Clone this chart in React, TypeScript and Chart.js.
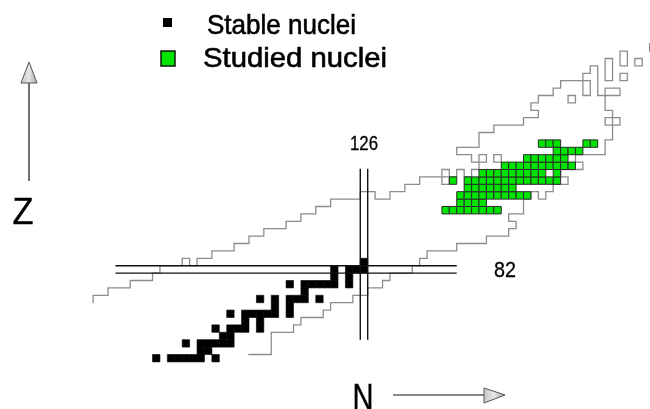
import { useEffect, useRef } from "react";
import { Chart, registerables } from "chart.js";

Chart.register(...registerables);

// ---------------- data ----------------
// Known nuclei: for each proton number Z, the known neutron-number ranges [from, to]
const knownZ = [70, 71, 72, 73, 74, 75, 76, 77, 78, 79, 80, 81, 82, 83, 84, 85, 86, 87, 88, 89, 90, 91, 92, 93, 94, 95, 96, 97, 98, 99, 100, 101, 102, 103, 104, 105, 106, 107, 108, 109, 110, 111, 112];
const knownN: number[][][] = [
  [[60, 110]],
  [[60, 113]],
  [[60, 113]],
  [[60, 113]],
  [[60, 116]],
  [[60, 117]],
  [[60, 120]],
  [[60, 121]],
  [[90, 124]],
  [[92, 126]],
  [[95, 128]],
  [[98, 129]],
  [[99, 132]],
  [[102, 102], [104, 133]],
  [[106, 134]],
  [[109, 138]],
  [[111, 142]],
  [[113, 145]],
  [[116, 146]],
  [[118, 145]],
  [[120, 147]],
  [[122, 147]],
  [[126, 127], [130, 148], [150, 150]],
  [[132, 151]],
  [[134, 136], [138, 153]],
  [[137, 137], [139, 139], [141, 152]],
  [[142, 155]],
  [[141, 141], [143, 143], [145, 154]],
  [[139, 158]],
  [[142, 158]],
  [[142, 159]],
  [[144, 159]],
  [[148, 158], [160, 160]],
  [[150, 159]],
  [[149, 158]],
  [[150, 153], [155, 158]],
  [[152, 155], [157, 157], [159, 160]],
  [[153, 155], [157, 157]],
  [[156, 157], [159, 159], [161, 161]],
  [[157, 157], [159, 159]],
  [[159, 159], [161, 161], [163, 163]],
  [[161, 161]],
  [[165, 165]],
];

// Stable nuclei (black)
const stableZ = [70, 71, 72, 73, 74, 75, 76, 77, 78, 79, 80, 81, 82, 83];
const stableN: number[][] = [
  [98, 100, 101, 102, 103, 104, 106],
  [104, 105],
  [102, 104, 105, 106, 107, 108],
  [107, 108],
  [106, 108, 109, 110, 112],
  [110, 112],
  [108, 110, 111, 112, 113, 114, 116],
  [114, 116],
  [112, 114, 116, 117, 118, 120],
  [118],
  [116, 118, 119, 120, 121, 122, 124],
  [122, 124],
  [122, 124, 125, 126],
  [126],
];

// Studied nuclei (green): ranges of N for each Z
const studiedZ = [90, 91, 92, 93, 94, 95, 96, 97, 98, 99];
const studiedN: number[][][] = [
  [[137, 144]],
  [[139, 142]],
  [[139, 148]],
  [[140, 146]],
  [[138, 138], [140, 152]],
  [[142, 150], [152, 152]],
  [[145, 154]],
  [[148, 153]],
  [[152, 155]],
  [[150, 152], [156, 157]],
];

// Magic numbers and the extent of their double lines
const magicN = 126;
const magicZ = 82;
const magicNLineZ = [72.5, 95.6];
const magicZLineN = [92.5, 138.5];
const magicLabels = ["126", "82"];
const magicZLabelN = 145;

// rows / columns from which the outline of known nuclei is drawn
const outlineFromZ = 71;
const outlineFromN = 90;

const legendLabels = ["Stable nuclei", "Studied nuclei"];
const axisLabels = ["N", "Z"];

// visible window of the chart in (N, Z)
const N_MIN = 76.945;
const N_MAX = 164.546;
const Z_MIN = 63.135;
const Z_MAX = 118.405;

// ---------------- helpers ----------------
type P = { x: number | null; y: number | null };

function cellsFromRanges(zs: number[], ranges: number[][][]): P[] {
  const out: P[] = [];
  zs.forEach((z, i) => ranges[i].forEach(([a, b]) => {
    for (let n = a; n <= b; n++) out.push({ x: n, y: z });
  }));
  return out;
}

function cellsFromLists(zs: number[], lists: number[][]): P[] {
  const out: P[] = [];
  zs.forEach((z, i) => lists[i].forEach((n) => out.push({ x: n, y: z })));
  return out;
}

function outlinePoints(): P[] {
  const set = new Set<string>();
  knownZ.forEach((z, i) => knownN[i].forEach(([a, b]) => {
    for (let n = a; n <= b; n++) set.add(z + ":" + n);
  }));
  const has = (z: number, n: number) => set.has(z + ":" + n);
  const zLo = Math.min(...knownZ) - 1;
  const zHi = Math.max(...knownZ) + 1;
  let nLo = Infinity;
  let nHi = -Infinity;
  knownN.forEach((r) => r.forEach(([a, b]) => { nLo = Math.min(nLo, a); nHi = Math.max(nHi, b); }));
  const pts: P[] = [];
  for (let z = zLo; z < zHi; z++) {
    let start: number | null = null;
    for (let n = nLo - 1; n <= nHi + 2; n++) {
      const a = has(z, n);
      const b = has(z + 1, n);
      const owner = a ? z : z + 1;
      const draw = a !== b && owner >= outlineFromZ && n >= outlineFromN;
      if (draw && start === null) start = n;
      if (!draw && start !== null) {
        pts.push({ x: start - 0.5, y: z + 0.5 }, { x: n - 0.5, y: z + 0.5 }, { x: null, y: null });
        start = null;
      }
    }
  }
  for (let n = nLo - 1; n <= nHi + 1; n++) {
    let start: number | null = null;
    for (let z = zLo; z <= zHi + 1; z++) {
      const a = has(z, n);
      const b = has(z, n + 1);
      const draw = a !== b && z >= outlineFromZ && n + 1 >= outlineFromN;
      if (draw && start === null) start = z;
      if (!draw && start !== null) {
        pts.push({ x: n + 0.5, y: start - 0.5 }, { x: n + 0.5, y: z - 0.5 }, { x: null, y: null });
        start = null;
      }
    }
  }
  return pts;
}

function magicPoints(): P[] {
  return [
    { x: magicZLineN[0], y: magicZ - 0.5 }, { x: magicZLineN[1], y: magicZ - 0.5 }, { x: null, y: null },
    { x: magicZLineN[0], y: magicZ + 0.5 }, { x: magicZLineN[1], y: magicZ + 0.5 }, { x: null, y: null },
    { x: magicN - 0.5, y: magicNLineZ[0] }, { x: magicN - 0.5, y: magicNLineZ[1] }, { x: null, y: null },
    { x: magicN + 0.5, y: magicNLineZ[0] }, { x: magicN + 0.5, y: magicNLineZ[1] },
  ];
}

const FONT = '"Liberation Sans", Arial, sans-serif';

function fitText(ctx: CanvasRenderingContext2D, text: string, x: number, y: number, size: number, width: number, align: "left" | "center" = "left", weight = 0) {
  ctx.font = `${size}px ${FONT}`;
  const m = ctx.measureText(text).width;
  const s = width / m;
  ctx.save();
  ctx.translate(x, y);
  ctx.scale(s, 1);
  ctx.textAlign = align;
  ctx.textBaseline = "alphabetic";
  ctx.fillText(text, 0, 0);
  if (weight > 0) {
    ctx.strokeStyle = ctx.fillStyle as string;
    ctx.lineWidth = weight;
    ctx.strokeText(text, 0, 0);
  }
  ctx.restore();
}

function arrowHead(ctx: CanvasRenderingContext2D, pts: number[][]) {
  const xs = pts.map((p) => p[0]);
  const g = ctx.createLinearGradient(Math.min(...xs), 0, Math.max(...xs), 0);
  g.addColorStop(0, "#c8c8c8");
  g.addColorStop(0.5, "#e6e6e6");
  g.addColorStop(1, "#a8a8a8");
  ctx.beginPath();
  ctx.moveTo(pts[0][0], pts[0][1]);
  ctx.lineTo(pts[1][0], pts[1][1]);
  ctx.lineTo(pts[2][0], pts[2][1]);
  ctx.closePath();
  ctx.fillStyle = g;
  ctx.fill();
  ctx.strokeStyle = "#555";
  ctx.lineWidth = 1;
  ctx.stroke();
}

const decorPlugin = {
  id: "decor",
  afterDatasetsDraw(chart: any) {
    const ctx: CanvasRenderingContext2D = chart.ctx;
    const xs = chart.scales.x;
    const ys = chart.scales.y;
    ctx.save();
    ctx.fillStyle = "#000";

    // legend
    ctx.fillRect(163, 18, 9, 9);
    fitText(ctx, legendLabels[0], 207, 33.5, 28, 149, "left", 0.6);
    ctx.fillStyle = "#00e400";
    ctx.fillRect(161, 51, 14, 15);
    ctx.strokeStyle = "#111";
    ctx.lineWidth = 1.5;
    ctx.strokeRect(161, 51, 14, 15);
    ctx.fillStyle = "#000";
    fitText(ctx, legendLabels[1], 203, 67, 28, 184, "left", 0.6);

    // magic number labels
    fitText(ctx, magicLabels[0], xs.getPixelForValue(magicN), 150, 20, 28, "center", 0.3);
    fitText(ctx, magicLabels[1], xs.getPixelForValue(magicZLabelN), ys.getPixelForValue(magicZ) + 8, 22, 22, "center", 0.3);

    // Z axis arrow
    ctx.strokeStyle = "#111";
    ctx.lineWidth = 1.2;
    ctx.beginPath();
    ctx.moveTo(29, 83);
    ctx.lineTo(29, 181);
    ctx.stroke();
    arrowHead(ctx, [[29, 62], [21, 83], [37, 83]]);
    ctx.fillStyle = "#000";
    fitText(ctx, axisLabels[1], 23, 224, 37, 21, "center", 0.4);

    // N axis arrow
    ctx.strokeStyle = "#111";
    ctx.lineWidth = 1.2;
    ctx.beginPath();
    ctx.moveTo(393, 395);
    ctx.lineTo(484, 395);
    ctx.stroke();
    arrowHead(ctx, [[505, 395], [484, 388], [484, 403]]);
    ctx.fillStyle = "#000";
    fitText(ctx, axisLabels[0], 363, 410, 37, 21, "center", 0.4);

    ctx.restore();
  },
};

export default function App() {
  const ref = useRef<HTMLCanvasElement | null>(null);

  useEffect(() => {
    if (!ref.current) return;
    const cellPx = 650 / (N_MAX - N_MIN);
    const r = cellPx / Math.SQRT2;
    const chart = new Chart(ref.current, {
      type: "scatter",
      data: {
        datasets: [
          {
            label: "magic",
            data: magicPoints() as any,
            showLine: true,
            spanGaps: false,
            borderColor: "#111",
            borderWidth: 1.4,
            pointRadius: 0,
            order: 1,
          },
          {
            label: legendLabels[0],
            data: cellsFromLists(stableZ, stableN) as any,
            pointStyle: "rect",
            pointRadius: r,
            backgroundColor: "#000",
            borderColor: "#000",
            borderWidth: 0.6,
            order: 2,
          },
          {
            label: legendLabels[1],
            data: cellsFromRanges(studiedZ, studiedN) as any,
            pointStyle: "rect",
            pointRadius: r,
            backgroundColor: "#00e400",
            borderColor: "#2a2a2a",
            borderWidth: 1,
            order: 3,
          },
          {
            label: "known",
            data: outlinePoints() as any,
            showLine: true,
            spanGaps: false,
            borderColor: "#8c8c8c",
            borderWidth: 1.3,
            borderCapStyle: "square",
            pointRadius: 0,
            order: 4,
          },
        ],
      },
      options: {
        animation: false,
        responsive: true,
        maintainAspectRatio: false,
        events: [],
        layout: { padding: 0, autoPadding: false },
        plugins: { legend: { display: false }, tooltip: { enabled: false } },
        scales: {
          x: { type: "linear", min: N_MIN, max: N_MAX, display: false },
          y: { type: "linear", min: Z_MIN, max: Z_MAX, display: false },
        },
      },
      plugins: [decorPlugin],
    });
    return () => chart.destroy();
  }, []);

  return (
    <div style={{ position: "fixed", left: 0, top: 0, width: 650, height: 409, background: "#fff" }}>
      <canvas ref={ref} />
    </div>
  );
}
